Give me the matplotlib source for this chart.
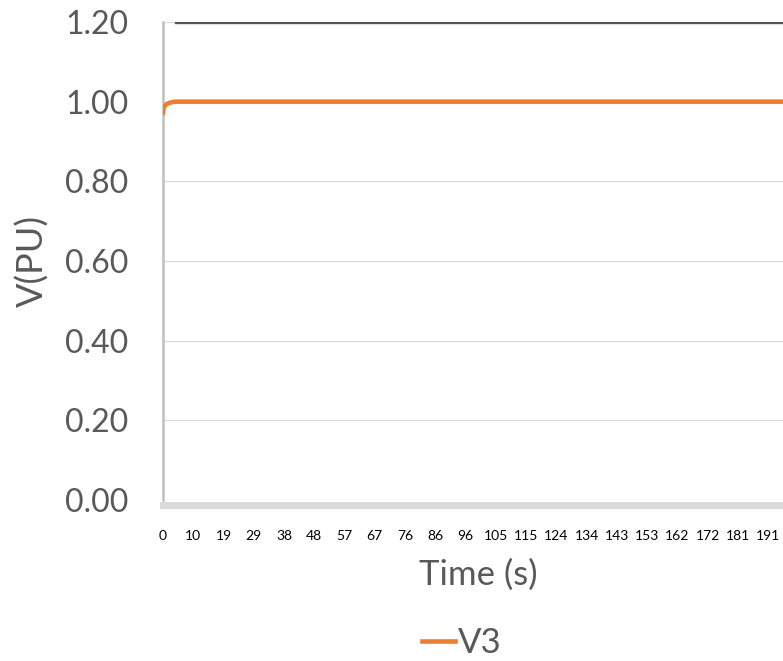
import matplotlib
matplotlib.use("Agg")
import matplotlib.pyplot as plt

# Data
time_v3 = [0.0, 0.2, 0.6, 1.2, 2.0, 3.0, 3.8, 200.0]
v3 = [0.972, 0.984, 0.990, 0.994, 0.997, 0.999, 1.000, 1.000]
time_upper = [4.1, 200.0]
v_upper = [1.20, 1.20]

xtick_values = [0, 9.55, 19.1, 28.65, 38.2, 47.75, 57.3, 66.85, 76.4, 85.95, 95.5,
                105.05, 114.6, 124.15, 133.7, 143.25, 152.8, 162.35, 171.9, 181.45, 191.0]
xtick_labels = ["0", "10", "19", "29", "38", "48", "57", "67", "76", "86", "96",
                "105", "115", "124", "134", "143", "153", "162", "172", "181", "191"]
ytick_values = [0.0, 0.2, 0.4, 0.6, 0.8, 1.0, 1.2]
ytick_labels = ["0.00", "0.20", "0.40", "0.60", "0.80", "1.00", "1.20"]

plt.rcParams['font.family'] = ['Lato', 'DejaVu Sans']
W, H = 783, 661
fig = plt.figure(figsize=(W / 100, H / 100), dpi=100)
left, right, top, bottom = 163, 783, 22, 500
ax = fig.add_axes([left / W, 1 - bottom / H, (right - left) / W, (bottom - top) / H])

ax.set_xlim(0, (right - left) / 3.168)
ax.set_ylim(0, 1.2)

for y in ytick_values:
    ax.axhline(y, color="#d9d9d9", lw=0.9, zorder=1)

ax.plot(time_upper, v_upper, color="#555555", lw=2.4, zorder=3)
ax.plot(time_v3, v3, color="#ED7D31", lw=3.3, zorder=4, label="V3",
        solid_joinstyle="round")

ax.set_xticks(xtick_values)
ax.set_xticklabels(xtick_labels, fontsize=9.6, color="#595959", fontweight="bold",
                   family=["DejaVu Sans"])
ax.set_yticks(ytick_values)
ax.set_yticklabels(ytick_labels, fontsize=23, color="#595959")
ax.tick_params(axis="both", length=0)
ax.tick_params(axis="y", pad=25)
ax.tick_params(axis="x", pad=18)

for s in ["top", "right"]:
    ax.spines[s].set_visible(False)
ax.spines["left"].set_color("#bfbfbf")
ax.spines["left"].set_linewidth(1.8)
ax.spines["bottom"].set_color("#d9d9d9")
ax.spines["bottom"].set_linewidth(5.0)
ax.spines["bottom"].set_position(("outward", 3.5))

ax.set_ylabel("V(PU)", fontsize=26, color="#595959")
ax.yaxis.set_label_coords((49 - left) / (right - left), 0.5)
ax.set_xlabel("Time (s)", fontsize=25, color="#595959")
ax.xaxis.set_label_coords((478 - left) / (right - left), (bottom - 575) / (bottom - top))
ax.xaxis.label.set_verticalalignment("center")

fig.legend(loc="center", bbox_to_anchor=(462 / W, 1 - 643 / H), frameon=False,
           fontsize=25, handlelength=0.95, handletextpad=0.1, labelcolor="#595959")

fig.savefig("out.png", dpi=100)
